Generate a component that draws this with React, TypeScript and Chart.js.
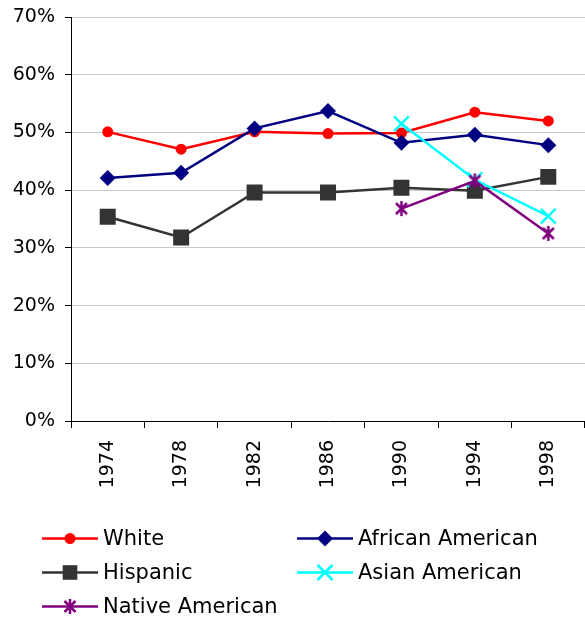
import React, { useEffect, useRef } from "react";
import { Chart, registerables } from "chart.js";

Chart.register(...registerables);

const years = ["1974", "1978", "1982", "1986", "1990", "1994", "1998"];
const white = [50.1, 47.1, 50.1, 49.8, 49.9, 53.5, 52.0];
const africanAmerican = [42.1, 43.0, 50.7, 53.7, 48.2, 49.6, 47.8];
const hispanic = [35.4, 31.8, 39.6, 39.6, 40.4, 39.9, 42.3];
const asianAmerican = [null, null, null, null, 51.5, 41.8, 35.5];
const nativeAmerican = [null, null, null, null, 36.8, 41.6, 32.5];
const seriesNames = ["White", "African American", "Hispanic", "Asian American", "Native American"];
const yTicks = [0, 10, 20, 30, 40, 50, 60, 70];

const FONT = "DejaVu Sans, Verdana, sans-serif";

function makeAsterisk(color: string, size: number, lw: number) {
  const c = document.createElement("canvas");
  c.width = size;
  c.height = size;
  const ctx = c.getContext("2d")!;
  ctx.strokeStyle = color;
  ctx.lineWidth = lw;
  const m = size / 2;
  const r = 7.5;
  const d = 5.5;
  ctx.beginPath();
  ctx.moveTo(m, m - r);
  ctx.lineTo(m, m + r);
  ctx.moveTo(m - d, m - d);
  ctx.lineTo(m + d, m + d);
  ctx.moveTo(m + d, m - d);
  ctx.lineTo(m - d, m + d);
  ctx.stroke();
  return c;
}

function drawMarker(ctx: CanvasRenderingContext2D, style: string, x: number, y: number, color: string) {
  ctx.save();
  ctx.fillStyle = color;
  ctx.strokeStyle = color;
  ctx.lineWidth = 2.5;
  ctx.beginPath();
  if (style === "circle") {
    ctx.arc(x, y, 5.5, 0, Math.PI * 2);
    ctx.fill();
  } else if (style === "rectRot") {
    const r = 8;
    ctx.moveTo(x, y - r);
    ctx.lineTo(x + r, y);
    ctx.lineTo(x, y + r);
    ctx.lineTo(x - r, y);
    ctx.closePath();
    ctx.fill();
  } else if (style === "rect") {
    const h = 7.3;
    ctx.rect(x - h, y - h, 2 * h, 2 * h);
    ctx.fill();
  } else if (style === "crossRot") {
    const h = 7.5;
    ctx.moveTo(x - h, y - h);
    ctx.lineTo(x + h, y + h);
    ctx.moveTo(x + h, y - h);
    ctx.lineTo(x - h, y + h);
    ctx.stroke();
  } else if (style === "asterisk") {
    const r = 7.5;
    const d = 5.5;
    ctx.moveTo(x, y - r);
    ctx.lineTo(x, y + r);
    ctx.moveTo(x - d, y - d);
    ctx.lineTo(x + d, y + d);
    ctx.moveTo(x + d, y - d);
    ctx.lineTo(x - d, y + d);
    ctx.stroke();
  }
  ctx.restore();
}

export default function App() {
  const ref = useRef<HTMLCanvasElement>(null);

  useEffect(() => {
    const colors = ["#ff0000", "#000080", "#333333", "#00ffff", "#800080"];
    const markerStyles = ["circle", "rectRot", "rect", "crossRot", "asterisk"];
    const asterisk = makeAsterisk(colors[4], 19, 2.5);

    const legendPlugin = {
      id: "customLegend",
      afterDraw(chart: any) {
        const ctx = chart.ctx as CanvasRenderingContext2D;
        const cols = [42, 297];
        const rows = [538.5, 572.5, 606.5];
        const lineLen = 56;
        ctx.save();
        seriesNames.forEach((name, i) => {
          const x = cols[i % 2];
          const y = rows[Math.floor(i / 2)];
          ctx.strokeStyle = colors[i];
          ctx.lineWidth = 2.5;
          ctx.beginPath();
          ctx.moveTo(x, y);
          ctx.lineTo(x + lineLen, y);
          ctx.stroke();
          drawMarker(ctx, markerStyles[i], x + lineLen / 2, y, colors[i]);
          ctx.fillStyle = "#000";
          ctx.font = `21px ${FONT}`;
          ctx.textBaseline = "middle";
          ctx.textAlign = "left";
          ctx.fillText(name, x + lineLen + 5, y + 1);
        });
        ctx.restore();
      },
    };

    const datasets = [
      { data: white, pointStyle: "circle", pointRadius: 5.5 },
      { data: africanAmerican, pointStyle: "rectRot", pointRadius: 8 },
      { data: hispanic, pointStyle: "rect", pointRadius: 11.3 },
      { data: asianAmerican, pointStyle: "crossRot", pointRadius: 10.4 },
      { data: nativeAmerican, pointStyle: asterisk as any, pointRadius: 8 },
    ].map((d, i) => ({
      label: seriesNames[i],
      data: d.data,
      borderColor: colors[i],
      backgroundColor: colors[i],
      pointBackgroundColor: colors[i],
      pointBorderColor: colors[i],
      pointBorderWidth: i >= 3 ? 2.5 : 0,
      pointStyle: d.pointStyle,
      pointRadius: d.pointRadius,
      pointHoverRadius: d.pointRadius,
      borderWidth: 2.5,
      tension: 0,
      spanGaps: false,
      order: 10 - i,
    }));

    const chart = new Chart(ref.current!, {
      type: "line",
      data: { labels: years, datasets: datasets as any },
      plugins: [legendPlugin],
      options: {
        animation: false,
        responsive: false,
        maintainAspectRatio: false,
        layout: { autoPadding: false, padding: { top: 17, right: 0, bottom: 120, left: 0 } },
        plugins: { legend: { display: false }, tooltip: { enabled: false } },
        scales: {
          x: {
            type: "category",
            offset: true,
            grid: {
              display: true,
              drawOnChartArea: false,
              offset: true,
              tickLength: 7,
              color: "#000",
              lineWidth: 1,
            },
            border: { color: "#000", width: 1 },
            ticks: {
              minRotation: 90,
              maxRotation: 90,
              autoSkip: false,
              padding: 12,
              color: "#000",
              font: { family: FONT, size: 19 },
            },
            afterFit(scale: any) {
              scale.height = 79;
              scale.paddingLeft = 0;
              scale.paddingRight = 0;
            },
          },
          y: {
            min: 0,
            max: 70,
            afterBuildTicks(scale: any) {
              scale.ticks = yTicks.map((v) => ({ value: v }));
            },
            grid: { color: "#c8c8c8", tickColor: "#000", tickLength: 6, lineWidth: 1 },
            border: { color: "#000", width: 1 },
            ticks: {
              padding: 10,
              color: "#000",
              font: { family: FONT, size: 19 },
              callback: (v: any) => `${v}%`,
            },
            afterFit(scale: any) {
              scale.width = 71;
              scale.paddingTop = 0;
              scale.paddingBottom = 0;
            },
          },
        },
      },
    });
    return () => chart.destroy();
  }, []);

  return (
    <div style={{ position: "fixed", left: 0, top: 0, width: 585, height: 620, background: "#fff" }}>
      <canvas ref={ref} width={585} height={620} style={{ display: "block" }} />
    </div>
  );
}
